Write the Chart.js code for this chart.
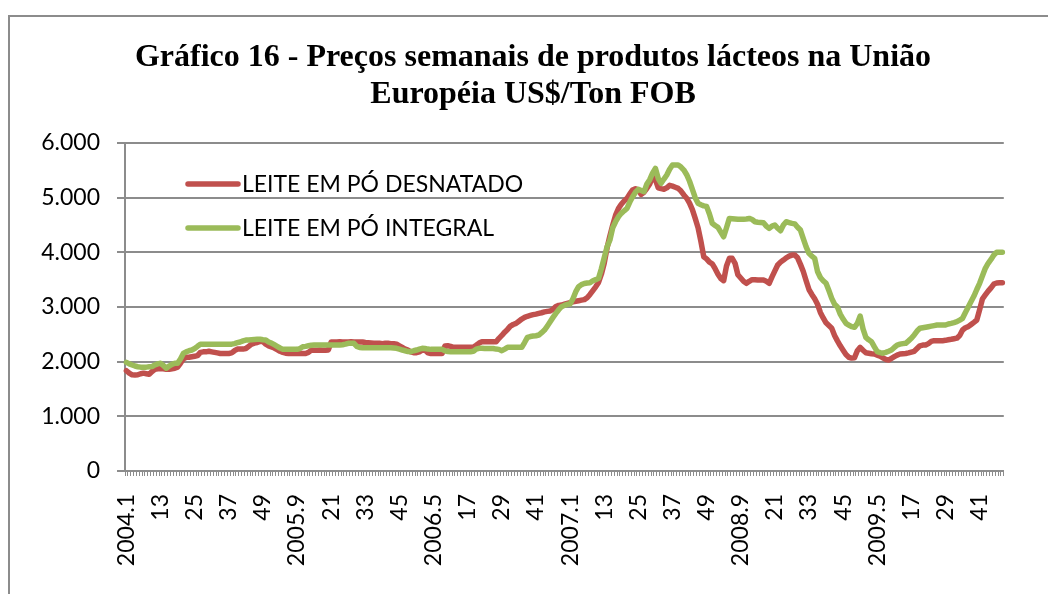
<!DOCTYPE html>
<html>
<head>
<meta charset="utf-8">
<script src="https://cdn.jsdelivr.net/npm/chart.js@4.4.1/dist/chart.umd.min.js"></script>
<style>
  html, body { margin: 0; padding: 0; background: #fff; overflow: hidden; }
  #frame { position: absolute; left: 8px; top: 15px; width: 2000px; height: 2000px; border: 2px solid #8c8c8c; }
  #chart { position: absolute; left: 0; top: 0; }
</style>
</head>
<body>
<div id="frame"></div>
<canvas id="chart" width="1048" height="594"></canvas>
<script>
// weeks per year shown (2004 .. 2009)
const years = [2004, 2005, 2006, 2007, 2008, 2009];
const weeksInYear = [52, 52, 52, 52, 52, 49];

// labels printed under the axis, one every 12 weeks
const tickLabels = ['2004.1', '13', '25', '37', '49', '2005.9', '21', '33', '45', '2006.5', '17', '29', '41',
    '2007.1', '13', '25', '37', '49', '2008.9', '21', '33', '45', '2009.5', '17', '29', '41'];

const titleLines = ['Gráfico 16 - Preços semanais de produtos lácteos na União', 'Européia US$/Ton FOB'];

// LEITE EM PÓ DESNATADO (US$/t)
const desnatado = [
    1834, 1790, 1760, 1756, 1760, 1780, 1790, 1780, 1770, 1820,
    1860, 1870, 1870, 1870, 1860, 1860, 1870, 1880, 1900, 1970,
    2050, 2080, 2080, 2090, 2100, 2110, 2170, 2180, 2180, 2190,
    2180, 2170, 2160, 2150, 2150, 2150, 2150, 2160, 2200, 2230,
    2230, 2230, 2240, 2280, 2320, 2340, 2350, 2370, 2370, 2320,
    2290, 2270, 2250, 2220, 2190, 2170, 2155, 2150, 2150, 2150,
    2150, 2155, 2150, 2150, 2170, 2210, 2210, 2210, 2215, 2210,
    2210, 2215, 2360, 2360, 2360, 2365, 2360, 2360, 2360, 2365,
    2360, 2360, 2360, 2360, 2350, 2345, 2340, 2336, 2336, 2336,
    2330, 2336, 2336, 2330, 2330, 2320, 2290, 2260, 2230, 2210,
    2180, 2165, 2165, 2180, 2210, 2213, 2160, 2150, 2150, 2150,
    2150, 2150, 2286, 2290, 2280, 2262, 2262, 2262, 2262, 2262,
    2262, 2262, 2262, 2300, 2340, 2365, 2365, 2365, 2365, 2365,
    2365, 2427, 2480, 2540, 2590, 2650, 2680, 2700, 2740, 2780,
    2810, 2830, 2845, 2860, 2870, 2884, 2895, 2910, 2920, 2926,
    2960, 3010, 3030, 3036, 3050, 3065, 3080, 3095, 3105, 3115,
    3125, 3135, 3170, 3230, 3300, 3370, 3450, 3600, 3800, 4080,
    4300, 4500, 4680, 4800, 4880, 4940, 4987, 5070, 5140, 5165,
    5140, 5060, 5100, 5170, 5250, 5380, 5330, 5180, 5165, 5155,
    5180, 5225, 5210, 5190, 5170, 5120, 5050, 4990, 4900, 4780,
    4620, 4450, 4200, 3920, 3880, 3820, 3790, 3700, 3600, 3520,
    3481, 3750, 3890, 3890, 3800, 3590, 3530, 3470, 3433, 3470,
    3500, 3500, 3495, 3495, 3493, 3470, 3433, 3550, 3660, 3768,
    3820, 3859, 3900, 3930, 3950, 3950, 3900, 3780, 3650, 3480,
    3320, 3230, 3150, 3050, 2900, 2800, 2710, 2660, 2610, 2480,
    2380, 2290, 2210, 2130, 2080, 2065, 2070, 2200, 2262, 2210,
    2164, 2155, 2145, 2140, 2120, 2100, 2070, 2040, 2030, 2060,
    2091, 2120, 2140, 2145, 2150, 2160, 2175, 2190, 2240, 2290,
    2304, 2304, 2330, 2370, 2384, 2384, 2384, 2384, 2390, 2400,
    2409, 2420, 2430, 2480, 2579, 2620, 2640, 2680, 2720, 2762,
    2950, 3150, 3220, 3290, 3350, 3420, 3440, 3445, 3445
];

// LEITE EM PÓ INTEGRAL (US$/t)
const integral = [
    1988, 1960, 1940, 1920, 1907, 1900, 1900, 1900, 1905, 1910,
    1940, 1960, 1970, 1930, 1880, 1920, 1950, 1970, 1970, 2050,
    2150, 2180, 2200, 2213, 2240, 2280, 2317, 2317, 2317, 2317,
    2317, 2317, 2317, 2317, 2317, 2317, 2317, 2320, 2330, 2347,
    2360, 2380, 2396, 2396, 2400, 2405, 2410, 2410, 2400, 2396,
    2360, 2340, 2310, 2280, 2250, 2225, 2225, 2225, 2225, 2225,
    2225, 2240, 2273, 2280, 2290, 2300, 2304, 2304, 2304, 2304,
    2304, 2304, 2304, 2304, 2304, 2304, 2310, 2320, 2336, 2336,
    2336, 2280, 2260, 2255, 2255, 2255, 2255, 2255, 2255, 2255,
    2255, 2255, 2255, 2255, 2250, 2245, 2230, 2213, 2200, 2185,
    2182, 2200, 2213, 2230, 2244, 2240, 2230, 2225, 2225, 2225,
    2225, 2225, 2200, 2185, 2182, 2182, 2182, 2182, 2182, 2182,
    2182, 2182, 2190, 2230, 2244, 2244, 2240, 2240, 2240, 2240,
    2230, 2225, 2200, 2230, 2262, 2262, 2262, 2262, 2262, 2262,
    2350, 2445, 2460, 2469, 2475, 2487, 2530, 2579, 2650, 2731,
    2810, 2884, 2950, 3005, 3030, 3049, 3054, 3150, 3280, 3371,
    3410, 3430, 3440, 3445, 3480, 3500, 3524, 3700, 3900, 4100,
    4225, 4450, 4560, 4650, 4713, 4760, 4804, 4920, 5017, 5100,
    5152, 5130, 5109, 5250, 5330, 5450, 5536, 5350, 5262, 5340,
    5414, 5520, 5597, 5597, 5597, 5560, 5505, 5420, 5300, 5150,
    5000, 4896, 4870, 4850, 4840, 4700, 4530, 4490, 4457, 4370,
    4285, 4450, 4621, 4615, 4610, 4605, 4603, 4605, 4610, 4620,
    4600, 4560, 4550, 4545, 4540, 4480, 4438, 4480, 4500, 4440,
    4395, 4500, 4560, 4545, 4530, 4520, 4460, 4408, 4250, 4100,
    3981, 3930, 3890, 3650, 3540, 3480, 3433, 3300, 3158, 3050,
    3000, 2870, 2780, 2701, 2670, 2640, 2628, 2700, 2835, 2600,
    2445, 2400, 2365, 2270, 2182, 2165, 2155, 2170, 2190, 2213,
    2260, 2304, 2320, 2330, 2336, 2380, 2427, 2490, 2560, 2610,
    2620, 2630, 2640, 2650, 2660, 2670, 2670, 2670, 2670, 2690,
    2701, 2715, 2731, 2760, 2793, 2900, 3000, 3100, 3200, 3320,
    3433, 3570, 3707, 3800, 3870, 3950, 4000, 4000, 4000
];

// one category per week, e.g. "2004.1"
const weeks = [];
years.forEach((y, k) => {
    for (let w = 1; w <= weeksInYear[k]; w++) weeks.push(y + '.' + w);
});

const gridGray = '#8c8c8c';
const labelFont = { family: 'Lato', size: 23 };
const lineWidth = 5.5;

// title centred on the Excel chart frame (which runs past the right edge)
const frameTitle = {
    id: 'frameTitle',
    afterDraw(chart) {
        const ctx = chart.ctx;
        ctx.save();
        ctx.font = 'bold 32px "Liberation Serif"';
        ctx.fillStyle = '#000';
        ctx.textAlign = 'center';
        ctx.textBaseline = 'middle';
        titleLines.forEach((t, k) => ctx.fillText(t, 533, 58 + k * 37));
        ctx.restore();
    }
};

// legend drawn inside the plot, top left, like the Excel original
const insideLegend = {
    id: 'insideLegend',
    afterDatasetsDraw(chart) {
        const { ctx, chartArea } = chart;
        ctx.save();
        ctx.font = '23px Lato';
        ctx.textBaseline = 'middle';
        chart.data.datasets.forEach((ds, k) => {
            const y = chartArea.top + 41 + k * 44;
            ctx.strokeStyle = ds.borderColor;
            ctx.lineWidth = lineWidth;
            ctx.lineCap = 'round';
            ctx.beginPath();
            ctx.moveTo(chartArea.left + 63, y);
            ctx.lineTo(chartArea.left + 113, y);
            ctx.stroke();
            ctx.fillStyle = '#000';
            ctx.fillText(ds.label, chartArea.left + 117, y + 1);
        });
        ctx.restore();
    }
};

new Chart(document.getElementById('chart').getContext('2d'), {
    type: 'line',
    data: {
        labels: weeks,
        datasets: [{
            label: 'LEITE EM PÓ DESNATADO',
            data: desnatado,
            borderColor: '#c0504d',
            borderWidth: lineWidth,
            pointRadius: 0,
            borderJoinStyle: 'round',
            borderCapStyle: 'round',
            order: 1
        }, {
            label: 'LEITE EM PÓ INTEGRAL',
            data: integral,
            borderColor: '#9bbb59',
            borderWidth: lineWidth,
            pointRadius: 0,
            borderJoinStyle: 'round',
            borderCapStyle: 'round',
            order: 0
        }]
    },
    options: {
        responsive: false,
        animation: false,
        layout: { padding: { left: 18, right: 18, top: 143, bottom: 0 } },
        plugins: {
            legend: { display: false },
            tooltip: { enabled: false },
            title: { display: false }
        },
        scales: {
            x: {
                offset: true,
                grid: { drawOnChartArea: false, offset: true, tickLength: 5, color: gridGray, lineWidth: 1 },
                border: { color: gridGray, width: 2 },
                ticks: {
                    autoSkip: false,
                    minRotation: 90,
                    maxRotation: 90,
                    padding: 18,
                    color: '#000',
                    font: labelFont,
                    callback: (v, i) => (i % 12 === 0 ? tickLabels[i / 12] : '')
                },
                afterFit: s => { s.height = 123; }
            },
            y: {
                min: 0,
                max: 6000,
                ticks: {
                    stepSize: 1000,
                    padding: 17,
                    color: '#000',
                    font: labelFont,
                    callback: v => String(v).replace(/\B(?=(\d{3})+(?!\d))/g, '.')
                },
                grid: { color: gridGray, lineWidth: 2, tickLength: 8 },
                border: { color: gridGray, width: 2 },
                afterFit: s => { s.width = 107; }
            }
        }
    },
    plugins: [frameTitle, insideLegend]
});
</script>
</body>
</html>
